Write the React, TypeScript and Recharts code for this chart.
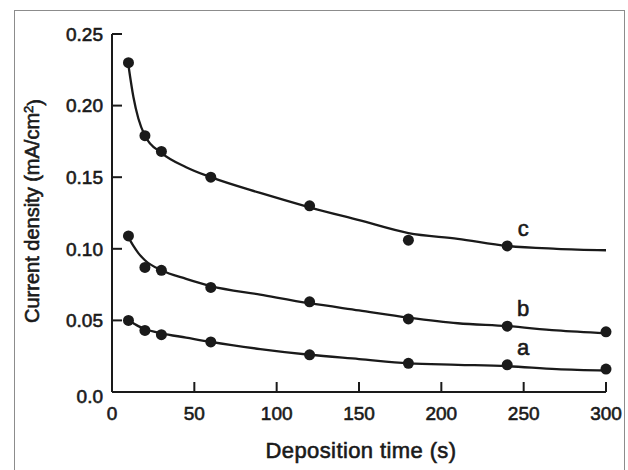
import React from "react"
import {
  ComposedChart,
  Line,
  Scatter,
  XAxis,
  YAxis,
  ReferenceDot,
  Label,
} from "recharts"

// measured points (deposition time s, current density mA/cm2)
const times = [10, 20, 30, 60, 120, 180, 240, 300]
const valuesA = [0.05, 0.043, 0.04, 0.035, 0.026, 0.02, 0.019, 0.016]
const valuesB = [0.109, 0.087, 0.085, 0.073, 0.063, 0.051, 0.046, 0.042]
const valuesC = [0.23, 0.179, 0.168, 0.15, 0.13, 0.106, 0.102]

// fitted curves
const curveTimes = [10, 13, 16, 20, 30, 45, 60, 90, 120, 150, 180, 210, 240, 270, 300]
const curveA = [0.05, 0.048, 0.046, 0.044, 0.041, 0.038, 0.035, 0.03, 0.026, 0.023, 0.02, 0.019, 0.018, 0.016, 0.015]
const curveB = [0.108, 0.102, 0.097, 0.092, 0.085, 0.079, 0.074, 0.068, 0.062, 0.057, 0.052, 0.048, 0.046, 0.043, 0.041]
const curveC = [0.228, 0.206, 0.191, 0.179, 0.167, 0.157, 0.15, 0.139, 0.129, 0.12, 0.111, 0.107, 0.102, 0.1, 0.099]

const xTicks = [0, 50, 100, 150, 200, 250, 300]
const yTicks = [0, 0.05, 0.1, 0.15, 0.2, 0.25]

const labelNames = ["a", "b", "c"]

const toRows = (xs: number[], ys: number[]) => ys.map((v, i) => ({ t: xs[i], v }))

const ptsA = toRows(times, valuesA)
const ptsB = toRows(times, valuesB)
const ptsC = toRows(times, valuesC)
const lineA = toRows(curveTimes, curveA)
const lineB = toRows(curveTimes, curveB)
const lineC = toRows(curveTimes, curveC)

const INK = "#1a1a1a"
const FONT = "'Liberation Sans', Arial, sans-serif"
const TICK_GAP = 8
const TICK_LEN = 10
// a thin outline on the glyphs mimics the heavy scanned text
const heavy = { stroke: INK, strokeWidth: 0.6 }

const YTick = (props: any) => {
  const { x, y, payload } = props
  const v = payload.value
  const axisX = x + TICK_GAP
  return (
    <g>
      <line x1={axisX} x2={axisX + TICK_LEN} y1={y} y2={y} stroke={INK} strokeWidth={2} />
      <text x={x - 1} y={v === 0 ? y + 4 : y} dy="0.36em" textAnchor="end" fill={INK} fontSize={19} fontFamily={FONT} {...heavy}>
        {v === 0 ? "0.0" : v.toFixed(2)}
      </text>
    </g>
  )
}

const XTick = (props: any) => {
  const { x, y, payload } = props
  const axisY = y - TICK_GAP
  return (
    <g>
      <line x1={x} x2={x} y1={axisY} y2={axisY - TICK_LEN} stroke={INK} strokeWidth={2} />
      <text x={x} y={y + 3} dy="0.9em" textAnchor="middle" fill={INK} fontSize={19} fontFamily={FONT} {...heavy}>
        {payload.value}
      </text>
    </g>
  )
}

const dot = (props: any) => <circle cx={props.cx} cy={props.cy} r={5.5} fill={INK} />

const YTitle = (props: any) => {
  const { viewBox } = props
  const cx = 32
  const cy = viewBox.y + viewBox.height / 2 - 2
  return (
    <text
      x={cx}
      y={cy}
      transform={`rotate(-90 ${cx} ${cy})`}
      textAnchor="middle"
      dy="0.36em"
      fill={INK}
      fontSize={20}
      fontFamily={FONT}
      {...heavy}
    >
      Current density (mA/cm
      <tspan dy="-0.45em" fontSize={13}>2</tspan>
      <tspan dy="0.45em">)</tspan>
    </text>
  )
}

const XTitle = (props: any) => {
  const { viewBox } = props
  const cx = viewBox.x + viewBox.width / 2 + 2
  return (
    <text
      x={cx}
      y={458}
      textAnchor="middle"
      fill={INK}
      fontSize={22}
      letterSpacing={0.4}
      fontFamily={FONT}
      {...heavy}
    >
      Deposition time (s)
    </text>
  )
}

const seriesLabel = (name: string) => (props: any) => {
  const { viewBox } = props
  return (
    <text x={viewBox.x + 16} y={viewBox.y - 10} textAnchor="middle" fill={INK} fontSize={22} fontFamily={FONT} {...heavy}>
      {name}
    </text>
  )
}

export default function App() {
  const pointSets = [ptsA, ptsB, ptsC]
  return (
    <div style={{ position: "absolute", left: 0, top: 0, width: 628, height: 470, background: "#fff", overflow: "hidden" }}>
      <div
        style={{
          position: "absolute",
          left: 14,
          top: 10,
          width: 609,
          height: 480,
          border: "1.5px solid #8c8c8c",
        }}
      />
      <ComposedChart
        width={628}
        height={470}
        margin={{ top: 34, right: 22, bottom: 0, left: 0 }}
        style={{ position: "absolute", left: 0, top: 0 }}
      >
        <XAxis
          dataKey="t"
          type="number"
          domain={[0, 300]}
          ticks={xTicks}
          height={78}
          tickSize={0}
          tickMargin={TICK_GAP}
          tick={<XTick />}
          axisLine={{ stroke: INK, strokeWidth: 2 }}
          tickLine={false}
          interval={0}
        >
          <Label content={<XTitle />} />
        </XAxis>
        <YAxis
          type="number"
          domain={[0, 0.25]}
          ticks={yTicks}
          width={112}
          tickSize={0}
          tickMargin={TICK_GAP}
          tick={<YTick />}
          axisLine={{ stroke: INK, strokeWidth: 2 }}
          tickLine={false}
          interval={0}
          allowDataOverflow
        >
          <Label content={<YTitle />} />
        </YAxis>
        {[lineA, lineB, lineC].map((d, i) => (
          <Line
            key={`line-${i}`}
            data={d}
            dataKey="v"
            type="monotone"
            stroke={INK}
            strokeWidth={2.3}
            dot={false}
            activeDot={false}
            isAnimationActive={false}
          />
        ))}
        {pointSets.map((d, i) => (
          <Scatter key={`pts-${i}`} data={d} dataKey="v" shape={dot} isAnimationActive={false} />
        ))}
        {pointSets.map((d, i) => (
          <ReferenceDot
            key={`lab-${i}`}
            x={d[6].t}
            y={d[6].v}
            r={0}
            stroke="none"
            label={seriesLabel(labelNames[i])}
          />
        ))}
      </ComposedChart>
    </div>
  )
}
